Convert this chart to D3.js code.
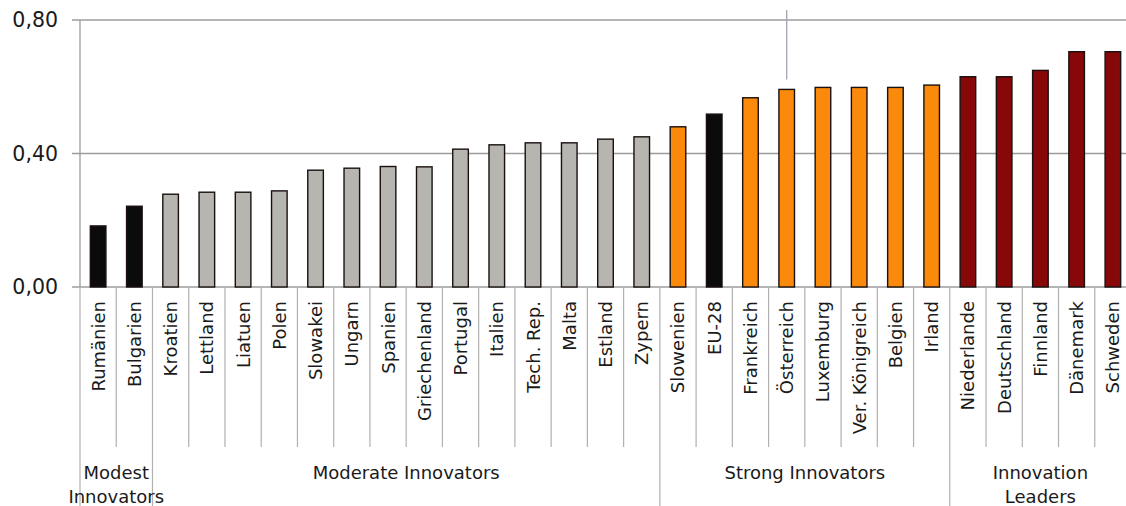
<!DOCTYPE html>
<html>
<head>
<meta charset="utf-8">
<script src="https://cdn.jsdelivr.net/npm/d3@7"></script>
<style>
  body { margin: 0; background: #fff; }
  svg { display: block; }
</style>
</head>
<body>
<div id="chart"></div>
<script>
"use strict";

// data
var countries = ["Rumänien", "Bulgarien", "Kroatien", "Lettland", "Liatuen", "Polen", "Slowakei", "Ungarn",
  "Spanien", "Griechenland", "Portugal", "Italien", "Tech. Rep.", "Malta", "Estland", "Zypern",
  "Slowenien", "EU-28", "Frankreich", "Österreich", "Luxemburg", "Ver. Königreich", "Belgien", "Irland",
  "Niederlande", "Deutschland", "Finnland", "Dänemark", "Schweden"];
var values = [0.183, 0.242, 0.278, 0.284, 0.284, 0.288, 0.350, 0.356,
  0.361, 0.360, 0.413, 0.426, 0.432, 0.432, 0.443, 0.450,
  0.480, 0.518, 0.567, 0.592, 0.598, 0.598, 0.598, 0.605,
  0.630, 0.630, 0.649, 0.705, 0.705];
var groupOf = ["modest", "modest", "moderate", "moderate", "moderate", "moderate", "moderate", "moderate",
  "moderate", "moderate", "moderate", "moderate", "moderate", "moderate", "moderate", "moderate",
  "strong", "eu", "strong", "strong", "strong", "strong", "strong", "strong",
  "leader", "leader", "leader", "leader", "leader"];
var groups = [
  {name: ["Modest", "Innovators"], first: "Rumänien", last: "Bulgarien"},
  {name: ["Moderate Innovators"], first: "Kroatien", last: "Zypern"},
  {name: ["Strong Innovators"], first: "Slowenien", last: "Irland"},
  {name: ["Innovation", "Leaders"], first: "Niederlande", last: "Schweden"}
];
var yTicks = [0, 0.4, 0.8];
var markedCountry = "Österreich";

var colors = {modest: "#0b0b0b", eu: "#0b0b0b", moderate: "#b7b5b0", strong: "#fb8a0c", leader: "#870808"};

var width = 1126, height = 506;
var plotLeft = 80, plotRight = 1131, plotTop = 20, plotBottom = 287;
var gridColor = "#9c9c9c";
var font = "DejaVu Sans, Verdana, sans-serif";

var svg = d3.select("#chart").append("svg")
  .attr("width", width)
  .attr("height", height);

var x = d3.scaleBand().domain(countries).range([plotLeft, plotRight]).paddingInner(0).paddingOuter(0);
var y = d3.scaleLinear().domain([0, 0.8]).range([plotBottom, plotTop]);
var bw = x.bandwidth();
var barW = bw * 0.43;

// gridlines + ticks
svg.append("g").selectAll("line")
  .data(yTicks)
  .enter()
  .append("line")
    .attr("x1", plotLeft - 8)
    .attr("x2", width)
    .attr("y1", function(d) { return y(d); })
    .attr("y2", function(d) { return y(d); })
    .attr("stroke", gridColor)
    .attr("stroke-width", 1.3);

svg.append("g").selectAll("text")
  .data(yTicks)
  .enter()
  .append("text")
    .attr("x", 58)
    .attr("y", function(d) { return y(d); })
    .attr("dy", "0.36em")
    .attr("text-anchor", "end")
    .attr("font-family", font)
    .attr("font-size", 20.5)
    .attr("fill", "#1a1a1a")
    .text(function(d) { return d3.format(".2f")(d).replace(".", ","); });

// y axis line
svg.append("line")
  .attr("x1", plotLeft).attr("x2", plotLeft)
  .attr("y1", plotTop).attr("y2", plotBottom)
  .attr("stroke", gridColor)
  .attr("stroke-width", 1.3);

// marker line above one bar
var mi = countries.indexOf(markedCountry);
svg.append("line")
  .attr("x1", x(markedCountry) + bw / 2)
  .attr("x2", x(markedCountry) + bw / 2)
  .attr("y1", 10)
  .attr("y2", y(values[mi]) - 10)
  .attr("stroke", "#a4a4b0")
  .attr("stroke-width", 1.3);

// bars
svg.append("g").selectAll("rect")
  .data(countries)
  .enter()
  .append("rect")
    .attr("x", function(c) { return x(c) + (bw - barW) / 2; })
    .attr("y", function(c, i) { return y(values[i]); })
    .attr("width", barW)
    .attr("height", function(c, i) { return y(0) - y(values[i]); })
    .attr("fill", function(c, i) { return colors[groupOf[i]]; })
    .attr("stroke", "#1a1010")
    .attr("stroke-width", 1.4);

// category separators
var groupStarts = groups.map(function(g) { return g.first; });
svg.append("g").selectAll("line")
  .data(countries)
  .enter()
  .append("line")
    .attr("x1", function(c) { return x(c); })
    .attr("x2", function(c) { return x(c); })
    .attr("y1", plotBottom)
    .attr("y2", function(c) { return groupStarts.indexOf(c) >= 0 ? height : 447; })
    .attr("stroke", "#b0b0b0")
    .attr("stroke-width", 1.2);

// category labels
svg.append("g").selectAll("text")
  .data(countries)
  .enter()
  .append("text")
    .attr("transform", function(c) { return "translate(" + (x(c) + bw / 2) + "," + 301 + ") rotate(-90)"; })
    .attr("dy", "0.36em")
    .attr("text-anchor", "end")
    .attr("font-family", font)
    .attr("font-size", 18)
    .attr("fill", "#1a1a1a")
    .text(function(c) { return c; });

// group labels
var groupText = svg.append("g").selectAll("text")
  .data(groups)
  .enter()
  .append("text")
    .attr("text-anchor", "middle")
    .attr("font-family", font)
    .attr("font-size", 18)
    .attr("fill", "#1a1a1a");

groupText.each(function(g) {
  var cx = (x(g.first) + x(g.last) + bw) / 2;
  d3.select(this).selectAll("tspan")
    .data(g.name)
    .enter()
    .append("tspan")
      .attr("x", cx)
      .attr("y", function(d, i) { return 479 + i * 23.5; })
      .text(function(d) { return d; });
});
</script>
</body>
</html>
